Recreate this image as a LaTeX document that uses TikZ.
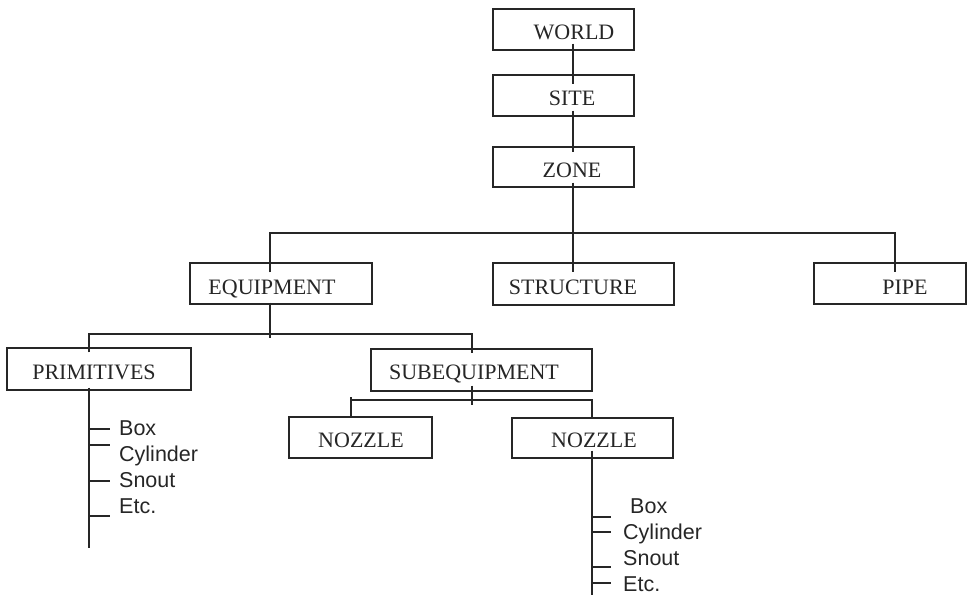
\documentclass[tikz,border=0pt]{standalone}
\usepackage{fontspec}
\setmainfont{Liberation Serif}
\setsansfont{Liberation Sans}
\begin{document}
\begin{tikzpicture}[x=1pt,y=-1pt,
  box/.style={draw=black!85, line width=1.4pt, inner sep=0pt, minimum height=41pt},
  lbl/.style={font=\fontsize{22}{26}\selectfont, inner sep=0pt, text height=14.6pt, text depth=0pt, text=black!85},
  item/.style={font=\sffamily\fontsize{21.5}{26}\selectfont, inner sep=0pt, anchor=base west, text=black!85},
  conn/.style={draw=black!85, line width=1.4pt}]
\useasboundingbox (0,0) rectangle (968,595);
% boxes
\node[box, minimum width=141pt] (world) at (563.5,29.5) {};
\node[box, minimum width=141pt] (site) at (563.5,95.5) {};
\node[box, minimum width=141pt, minimum height=40pt] (zone) at (563.5,167) {};
\node[box, minimum width=182pt] (equip) at (281,283.5) {};
\node[box, minimum width=181pt, minimum height=42pt] (struct) at (583.5,284) {};
\node[box, minimum width=152pt] (pipe) at (890,283.5) {};
\node[box, minimum width=184pt, minimum height=42pt] (prim) at (99,369) {};
\node[box, minimum width=221pt, minimum height=42pt] (subeq) at (481.5,370) {};
\node[box, minimum width=143pt] (noz1) at (360.5,437.5) {};
\node[box, minimum width=161pt, minimum height=40pt] (noz2) at (592.5,438) {};
% labels
\node[lbl] (worldt) at (574,32) {WORLD};
\node[lbl] (sitet) at (572,98) {SITE};
\node[lbl] (zonet) at (572,170) {ZONE};
\node[lbl] (equipt) at (272,287) {EQUIPMENT};
\node[lbl] (structt) at (573,287) {STRUCTURE};
\node[lbl] (pipet) at (905,287) {PIPE};
\node[lbl] (primt) at (94,372) {PRIMITIVES};
\node[lbl] (subeqt) at (474,372) {SUBEQUIPMENT};
\node[lbl] (noz1t) at (361,440) {NOZZLE};
\node[lbl] (noz2t) at (594,440) {NOZZLE};
% bus coordinates
\coordinate (b1L) at (270,233);
\coordinate (b1M) at (573,233);
\coordinate (b1R) at (895,233);
\coordinate (b2L) at (89,334);
\coordinate (b2M) at (270,334);
\coordinate (b2R) at (472,334);
\coordinate (b3L) at (351,400);
\coordinate (b3M) at (472,400);
\coordinate (b3R) at (592,400);
% top chain
\draw[conn] ([yshift=7pt]world.south -| b1M) -- ([yshift=-10pt]site.north -| b1M);
\draw[conn] ([yshift=6pt]site.south -| b1M) -- ([yshift=-6pt]zone.north -| b1M);
\draw[conn] ([yshift=5pt]zone.south -| b1M) -- (b1M);
% bus 1
\draw[conn] ([yshift=-10pt]equip.north -| b1L) -- (b1L) -- (b1R) -- ([yshift=-10pt]pipe.north -| b1R);
\draw[conn] (b1M) -- ([yshift=-10pt]struct.north -| b1M);
% bus 2
\draw[conn] ([yshift=2pt]equip.south -| b2M) -- ([yshift=-4pt]b2M);
\draw[conn] ([yshift=-5pt]prim.north -| b2L) -- (b2L) -- (b2R) -- ([yshift=-5pt]subeq.north -| b2R);
% bus 3
\draw[conn] ([yshift=6pt]subeq.south -| b3M) -- ([yshift=-5pt]b3M);
\draw[conn] (noz1.north -| b3L) -- ([yshift=3pt]b3L) -- (b3L) -- (b3R) -- (noz2.north -| b3R);
% primitives list
\coordinate (pEnd) at (89,548);
\draw[conn] ([yshift=3pt]prim.south -| pEnd) -- (pEnd);
\foreach \yy/\nm in {429/pa,445/pb,481/pc,516/pd}{
  \coordinate (\nm1) at (89,\yy);
  \coordinate (\nm2) at (110,\yy);
  \draw[conn] (\nm1) -- (\nm2);
}
\node[item] (pbox) at (119,435) {Box};
\node[item] (pcyl) at (119,461) {Cylinder};
\node[item] (psno) at (119,487) {Snout};
\node[item] (petc) at (119,513) {Etc.};
% nozzle list
\coordinate (nEnd) at (592,595);
\draw[conn] ([yshift=8pt]noz2.south -| nEnd) -- (nEnd);
\foreach \yy/\nm in {517/na,532/nb,567/nc,583/nd}{
  \coordinate (\nm1) at (592,\yy);
  \coordinate (\nm2) at (611,\yy);
  \draw[conn] (\nm1) -- (\nm2);
}
\node[item] (nbox) at (630,513) {Box};
\node[item] (ncyl) at (623,539) {Cylinder};
\node[item] (nsno) at (623,565) {Snout};
\node[item] (netc) at (623,591) {Etc.};
\end{tikzpicture}
\end{document}
